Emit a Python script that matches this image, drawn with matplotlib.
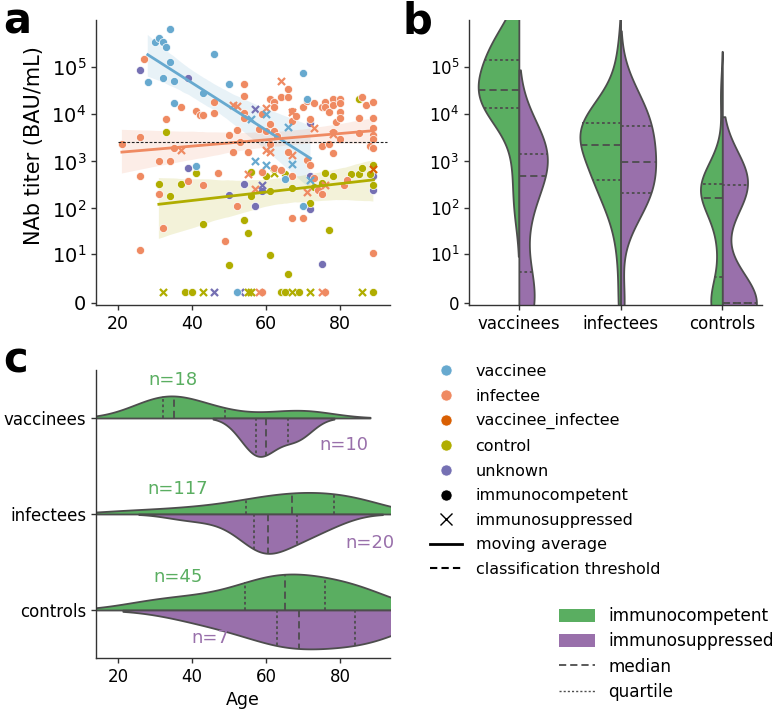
import numpy as np
import matplotlib
matplotlib.use("Agg")
import matplotlib.pyplot as plt
from matplotlib.lines import Line2D
from matplotlib.patches import Patch
import seaborn as sns

plt.rcParams['font.family'] = ['DejaVu Sans']
plt.rcParams['font.size'] = 12

# ------------------------------------------------------------------ data
# Panel a: (age, NAb titer in BAU/mL); 0 = below detection
vac_ic_age = [34, 30, 31, 32, 33, 34, 28, 32, 35, 35, 43, 46, 50, 41, 70, 71, 65, 70, 52]
vac_ic_titer = [660000, 350000, 410000, 350000, 270000, 126000, 49000, 60000, 50000, 17000,
                28000, 190000, 45000, 820, 76000, 21000, 430, 112, 0]
vac_is_age = [57, 60, 60, 66, 67, 72, 56]
vac_is_titer = [1000, 860, 10000, 5300, 870, 400, 7800]

inf_ic_age = [21, 26, 26, 26, 27, 33, 31, 31, 32, 34, 35, 37, 41, 42, 43, 39, 43, 47, 46, 46,
              50, 51, 52, 52, 49, 53, 54, 54, 54, 54, 55, 58, 59, 60, 61, 61, 61, 62, 62, 62,
              62, 63, 64, 66, 66, 66, 67, 67, 68, 67, 67, 70, 70, 71, 71, 72, 72, 73, 73, 74,
              75, 75, 75, 76, 76, 77, 77, 78, 78, 78, 78, 79, 80, 80, 80, 80, 80, 81, 82, 85,
              85, 86, 87, 89, 89, 89, 89, 89, 88, 89, 89, 76, 59, 59, 64]
inf_ic_titer = [2400, 3300, 500, 12, 150000, 7800, 1000, 200, 38, 1000, 1950, 14000, 11500, 9700,
                9700, 380, 320, 570, 18000, 10500, 3600, 1580, 4650, 115, 20, 2600, 44000, 25000,
                10500, 8500, 1580, 4800, 10000, 4400, 21000, 6100, 2300, 18000, 14000, 4400, 730,
                3500, 23000, 35000, 23000, 1580, 12000, 7200, 9200, 490, 62, 14000, 62, 19000,
                1100, 860, 7800, 17000, 450, 250, 14000, 2100, 200, 18000, 14000, 11000, 2300,
                21000, 15500, 4200, 1500, 6900, 21500, 17000, 11000, 8500, 2950, 320, 410, 8500,
                4100, 23000, 15500, 18000, 8500, 5200, 3700, 2950, 2100, 1950, 10.5, 0, 0, 590, 650]
inf_is_age = [37, 51, 52, 55, 57, 60, 60, 61, 64, 67, 71, 73, 76, 58, 75, 78, 67]
inf_is_titer = [1750, 16000, 15000, 530, 260, 13500, 1750, 1580, 51000, 1400, 220, 5200, 310,
                0, 0, 3800, 11000]

vacinf_age = [89]
vacinf_titer = [680]

ctl_ic_age = [33, 31, 34, 37, 41, 43, 50, 54, 55, 56, 56, 60, 61, 61, 65, 66, 67, 72, 73, 76,
              77, 78, 83, 85, 85, 86, 88, 89, 89, 75, 38, 40, 64, 65, 69, 89]
ctl_ic_titer = [4200, 340, 180, 340, 570, 47, 5.5, 56, 29, 590, 180, 500, 230, 9.5, 530, 3.2,
                270, 128, 290, 570, 34, 500, 550, 550, 21000, 740, 530, 860, 320, 355,
                0, 0, 0, 0, 0, 0]
ctl_is_age = [62, 32, 43, 55, 56, 67, 72, 86]
ctl_is_titer = [570, 0, 0, 0, 0, 0, 0, 0]

unk_ic_age = [26, 39, 39, 54, 50, 57, 59, 72, 72, 72, 75, 89, 89]
unk_ic_titer = [87000, 58000, 740, 340, 190, 112, 240, 6500, 97, 490, 5.8, 490, 245]
unk_is_age = [57, 59, 46, 53]
unk_is_titer = [13000, 320, 0, 0]

classification_threshold = 2600  # BAU/mL

# Panel b: NAb titers (BAU/mL) per cohort, immunocompetent (ic) / immunosuppressed (is)
b_vac_ic = [111, 790, 5000, 10000, 12600, 15800, 20000, 25100, 31600, 35500, 50100, 70800,
            100000, 158000, 200000, 316000, 398000, 631000]
b_vac_is = [0, 0, 1, 50, 315, 790, 1000, 1580, 2000, 3160]
b_inf_ic = [0, 7, 31, 62, 99, 140, 200, 250, 315, 355, 420, 500, 630, 795, 1000, 1120, 1260,
            1580, 1780, 2000, 2510, 2820, 3160, 3550, 3980, 4170, 4790, 5250, 5750, 6310, 6760,
            7940, 8910, 10000, 12600, 15800, 20000, 28200, 50100, 200000]
b_inf_is = [0, 49, 99, 157, 200, 223, 315, 500, 707, 890, 1070, 1580, 2510, 3980, 5620, 6310,
            7940, 12600, 20000, 39800]
b_ctl_ic = [0, 0, 0, 0, 0, 0, 4.4, 15, 39, 78, 111, 157, 177, 200, 223, 250, 281, 315, 354,
            397, 500, 707, 1260, 25000]
b_ctl_is = [0, 0, 0, 0, 250, 400, 450]

# Panel c: ages per cohort
c_vac_ic = [28, 30, 31, 32, 32, 33, 34, 34, 35, 35, 41, 43, 46, 50, 65, 70, 70, 71]
c_vac_is = [53, 56, 57, 58, 59, 61, 63, 67, 68, 71]
c_inf_ic = [18, 24, 30, 35, 39, 42, 45, 48, 51, 53, 55, 56, 58, 59, 60, 62, 63, 64, 65, 66,
            68, 69, 70, 71, 72, 73, 74, 75, 76, 78, 79, 80, 81, 82, 84, 85, 86, 88, 89, 90]
c_inf_is = [37, 44, 50, 54, 56, 57, 58, 59, 60, 60, 61, 62, 64, 66, 68, 69, 71, 73, 76, 80]
c_ctl_ic = [24, 30, 34, 38, 42, 46, 50, 54, 55, 57, 59, 60, 62, 63, 64, 66, 67, 68, 70, 72,
            74, 76, 76, 79, 81, 83, 85, 87, 89, 91]
c_ctl_is = [44, 60, 66, 69, 80, 88, 92]

cohorts = ['vaccinees', 'infectees', 'controls']
n_labels_ic = ['n=18', 'n=117', 'n=45']
n_labels_is = ['n=10', 'n=20', 'n=7']

# ------------------------------------------------------------------ style
C_VAC = '#67a9cf'
C_INF = '#ef8a62'
C_VACINF = '#d95f02'
C_CTL = '#b0ad00'
C_UNK = '#7570b3'
C_IC = '#5aae61'
C_IS = '#9970ab'
EDGE = '#4d4d4d'
ZERO_DISPLAY = 0.7  # where undetectable titers are drawn in panel a


def tr(v):
    return np.log10(np.asarray(v, float) + 1.0)


yticks_vals = [0, 10, 100, 1000, 10000, 100000]
ytick_labels = ['0', r'$10^{1}$', r'$10^{2}$', r'$10^{3}$', r'$10^{4}$', r'$10^{5}$']

fig = plt.figure(figsize=(7.77, 7.09), dpi=100)
W, H = 777.0, 709.0
ax_a = fig.add_axes([96 / W, 1 - 305 / H, 294 / W, 285 / H])
ax_b = fig.add_axes([469 / W, 1 - 305 / H, 293 / W, 285 / H])
ax_c = fig.add_axes([96 / W, 1 - 658 / H, 294 / W, 288 / H])

for ax in (ax_a, ax_b, ax_c):
    ax.spines['top'].set_visible(False)
    ax.spines['right'].set_visible(False)
    for s in ('left', 'bottom'):
        ax.spines[s].set_linewidth(1.0)
        ax.spines[s].set_color('#333333')
    ax.tick_params(labelsize=12, width=1.0, color='#333333')

# ------------------------------------------------------------------ panel a


def disp(t):
    t = np.asarray(t, float)
    return tr(np.where(t == 0, ZERO_DISPLAY, t))


groups = [
    (unk_ic_age, unk_ic_titer, unk_is_age, unk_is_titer, C_UNK),
    (ctl_ic_age, ctl_ic_titer, ctl_is_age, ctl_is_titer, C_CTL),
    (inf_ic_age, inf_ic_titer, inf_is_age, inf_is_titer, C_INF),
    (vac_ic_age, vac_ic_titer, vac_is_age, vac_is_titer, C_VAC),
    ([], [], vacinf_age, vacinf_titer, C_VACINF),
]
for ic_a, ic_t, is_a, is_t, col in groups:
    if len(ic_a):
        ax_a.scatter(ic_a, disp(ic_t), s=34, color=col, edgecolor='white', linewidth=0.5, zorder=2)
    if len(is_a):
        ax_a.scatter(is_a, disp(is_t), s=26, marker='x', color=col, linewidth=1.6, zorder=2)

for ic_a, ic_t, is_a, is_t, col in [groups[3], groups[2], groups[1]]:
    ages = np.array(list(ic_a) + list(is_a), float)
    tit = np.array(list(ic_t) + list(is_t), float)
    m = tit > 0
    sns.regplot(x=ages[m], y=tr(tit[m]), ax=ax_a, scatter=False, color=col, ci=95,
                n_boot=1000, seed=0, truncate=True, line_kws=dict(lw=2.0, zorder=3))

ax_a.hlines(tr(classification_threshold), 20, 92.6, colors='#222222', linewidth=0.8,
            linestyles=(0, (2.5, 1.5)), zorder=4)
ax_a.set_xlim(14, 93.5)
ax_a.set_ylim(-0.043, 6.0)
ax_a.set_xticks([20, 40, 60, 80])
ax_a.set_yticks(tr(yticks_vals))
ax_a.set_yticklabels(ytick_labels)
ax_a.tick_params(axis='y', labelsize=14)
ax_a.tick_params(axis='x', labelsize=12.5)
ax_a.set_ylabel('NAb titer (BAU/mL)', fontsize=15)
ax_a.yaxis.set_label_coords(-0.178, 0.56)
ax_a.set_xlabel('')

# ------------------------------------------------------------------ violins


def kde_curve(values, bw_adjust=1.0, cut=2.0, gridsize=300):
    v = np.asarray(values, float)
    bw = v.std(ddof=1) * len(v) ** (-1 / 5) * bw_adjust
    grid = np.linspace(v.min() - cut * bw, v.max() + cut * bw, gridsize)
    dens = np.exp(-0.5 * ((grid[:, None] - v[None, :]) / bw) ** 2).sum(1)
    return grid, dens / dens.max()


def half_violin(ax, values, pos, side, width, color, vertical=True, bw_adjust=1.0):
    values = np.asarray(values, float)
    grid, d = kde_curve(values, bw_adjust)
    edge = pos + side * width * d
    if vertical:
        ax.fill_betweenx(grid, pos, edge, facecolor=color, edgecolor=EDGE, linewidth=1.3, zorder=2)
    else:
        ax.fill_between(grid, pos, edge, facecolor=color, edgecolor=EDGE, linewidth=1.3, zorder=2)
    q = np.percentile(values, [25, 50, 75])
    for k, val in enumerate(q):
        end = pos + side * width * np.interp(val, grid, d)
        dashes = (4, 2.2) if k == 1 else (1.5, 1.5)
        if vertical:
            ax.plot([pos, end], [val, val], color=EDGE, lw=1.3, dashes=dashes, zorder=3)
        else:
            ax.plot([val, val], [pos, end], color=EDGE, lw=1.3, dashes=dashes, zorder=3)


# panel b
b_ic = [b_vac_ic, b_inf_ic, b_ctl_ic]
b_is = [b_vac_is, b_inf_is, b_ctl_is]
b_w_ic = [0.40, 0.40, 0.215]
b_w_is = [0.28, 0.345, 0.335]
b_bw_ic = [1.0, 1.0, 0.72]
b_bw_is = [0.8, 1.0, 0.7]
for i in range(3):
    half_violin(ax_b, tr(b_ic[i]), i, -1, b_w_ic[i], C_IC, True, b_bw_ic[i])
    half_violin(ax_b, tr(b_is[i]), i, +1, b_w_is[i], C_IS, True, b_bw_is[i])
ax_b.set_xlim(-0.49, 2.39)
ax_b.set_ylim(-0.043, 6.0)
ax_b.set_xticks(range(3))
ax_b.set_xticklabels(cohorts)
ax_b.set_yticks(tr(yticks_vals))
ax_b.set_yticklabels(ytick_labels)

# panel c
c_ic = [c_vac_ic, c_inf_ic, c_ctl_ic]
c_is = [c_vac_is, c_inf_is, c_ctl_is]
c_w_ic = [0.23, 0.225, 0.375]
c_w_is = [0.40, 0.41, 0.405]
for i in range(3):
    half_violin(ax_c, c_ic[i], i, -1, c_w_ic[i], C_IC, False)
    half_violin(ax_c, c_is[i], i, +1, c_w_is[i], C_IS, False)
ax_c.set_xlim(14, 93.5)
ax_c.set_ylim(2.5, -0.5)
ax_c.set_xticks([20, 40, 60, 80])
ax_c.set_yticks(range(3))
ax_c.set_yticklabels(cohorts)
ax_c.set_xlabel('Age', fontsize=12.5)

ic_pos = [(34.8, -0.40), (36.2, 0.74), (36.2, 1.66)]
is_pos = [(81.1, 0.28), (88.1, 1.30), (45.0, 2.29)]
for i in range(3):
    ax_c.text(*ic_pos[i], n_labels_ic[i], color=C_IC, fontsize=13, ha='center', va='center')
    ax_c.text(*is_pos[i], n_labels_is[i], color=C_IS, fontsize=13, ha='center', va='center')

# ------------------------------------------------------------------ legends
h1 = [
    Line2D([], [], ls='', marker='o', ms=8, color=C_VAC, mec='white', mew=0.5),
    Line2D([], [], ls='', marker='o', ms=8, color=C_INF, mec='white', mew=0.5),
    Line2D([], [], ls='', marker='o', ms=8, color=C_VACINF, mec='white', mew=0.5),
    Line2D([], [], ls='', marker='o', ms=8, color=C_CTL, mec='white', mew=0.5),
    Line2D([], [], ls='', marker='o', ms=8, color=C_UNK, mec='white', mew=0.5),
    Line2D([], [], ls='', marker='o', ms=8, color='black', mec='white', mew=0.5),
    Line2D([], [], ls='', marker='x', ms=8, color='black', mew=1.0),
    Line2D([], [], color='black', lw=2),
    Line2D([], [], color='black', lw=1.5, dashes=(3.5, 2)),
]
l1 = ['vaccinee', 'infectee', 'vaccinee_infectee', 'control', 'unknown',
      'immunocompetent', 'immunosuppressed', 'moving average', 'classification threshold']
fig.legend(h1, l1, loc='upper left', bbox_to_anchor=(430 / W, 1 - 364 / H), frameon=False,
           fontsize=11.5, borderpad=0, borderaxespad=0, labelspacing=0.60,
           handlelength=2.0, handletextpad=0.85)

h2 = [Patch(facecolor=C_IC, edgecolor='none'), Patch(facecolor=C_IS, edgecolor='none'),
      Line2D([], [], color=EDGE, lw=1.3, dashes=(4, 2.2)),
      Line2D([], [], color=EDGE, lw=1.0, dashes=(1.5, 1.5))]
l2 = ['immunocompetent', 'immunosuppressed', 'median', 'quartile']
fig.legend(h2, l2, loc='upper left', bbox_to_anchor=(559 / W, 1 - 607 / H), frameon=False,
           fontsize=12.2, borderpad=0, borderaxespad=0, labelspacing=0.43,
           handlelength=2.1, handleheight=0.8, handletextpad=0.8)

# panel letters
for x, y, t in [(3, 33, 'a'), (402, 33, 'b'), (3, 373, 'c')]:
    fig.text(x / W, 1 - y / H, t, fontsize=30, fontweight='bold', va='baseline', ha='left')

fig.savefig('out.png', dpi=100)
